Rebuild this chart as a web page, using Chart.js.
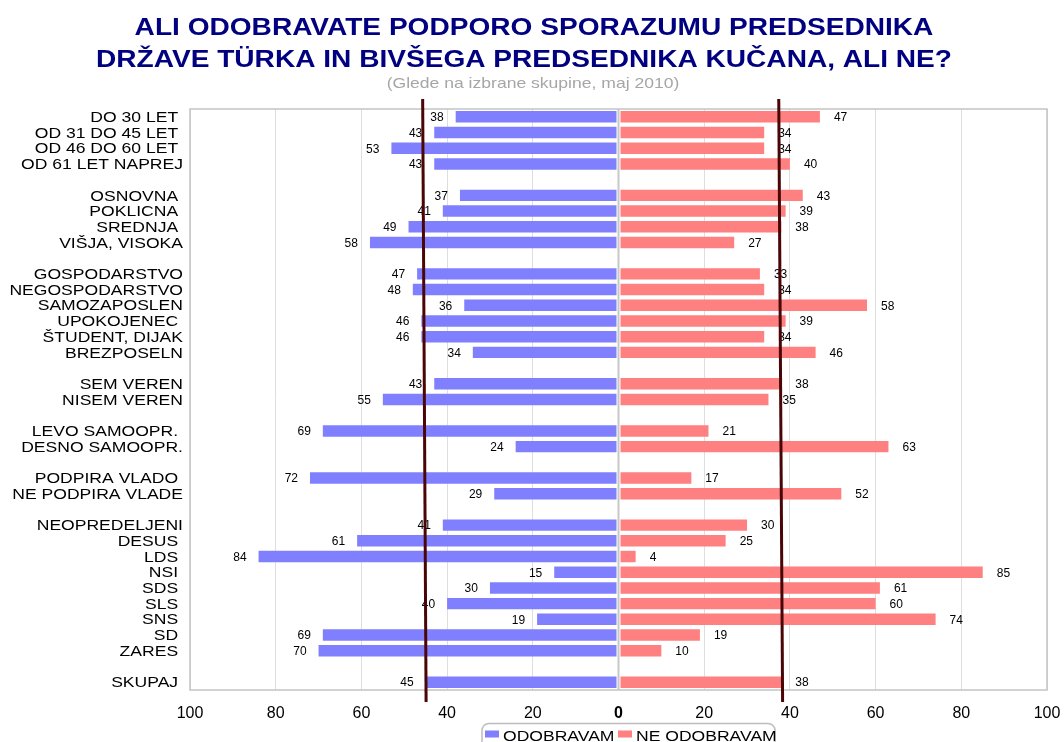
<!DOCTYPE html>
<html>
<head>
<meta charset="utf-8">
<title>Ali odobravate podporo sporazumu</title>
<script src="https://cdn.jsdelivr.net/npm/chart.js@4.4.0/dist/chart.umd.min.js"></script>
<style>
  html, body { margin: 0; padding: 0; background: #fff; overflow: hidden; }
  #wrap { width: 1064px; height: 742px; position: relative; }
</style>
</head>
<body>
<div id="wrap"><canvas id="poll"></canvas></div>
<script>
const titleLines = [
  'ALI ODOBRAVATE PODPORO SPORAZUMU PREDSEDNIKA',
  'DRŽAVE TÜRKA IN BIVŠEGA PREDSEDNIKA KUČANA, ALI NE?'
];
const subtitle = '(Glede na izbrane skupine, maj 2010)';

// empty strings are the gaps between groups
const groups = [
  'DO 30 LET ', 'OD 31 DO 45 LET ', 'OD 46 DO 60 LET ', 'OD 61 LET NAPREJ', '',
  'OSNOVNA ', 'POKLICNA ', 'SREDNJA ', 'VIŠJA, VISOKA', '',
  'GOSPODARSTVO', 'NEGOSPODARSTVO', 'SAMOZAPOSLEN', 'UPOKOJENEC ', 'ŠTUDENT, DIJAK', 'BREZPOSELN', '',
  'SEM VEREN', 'NISEM VEREN', '',
  'LEVO SAMOOPR. ', 'DESNO SAMOOPR.', '',
  'PODPIRA VLADO ', 'NE PODPIRA VLADE', '',
  'NEOPREDELJENI', 'DESUS ', 'LDS ', 'NSI ', 'SDS ', 'SLS ', 'SNS ', 'SD ', 'ZARES ', '',
  'SKUPAJ '
];
const approve = [38, 43, 53, 43, null, 37, 41, 49, 58, null, 47, 48, 36, 46, 46, 34, null,
  43, 55, null, 69, 24, null, 72, 29, null, 41, 61, 84, 15, 30, 40, 19, 69, 70, null, 45];
const disapprove = [47, 34, 34, 40, null, 43, 39, 38, 27, null, 33, 34, 58, 39, 34, 46, null,
  38, 35, null, 21, 63, null, 17, 52, null, 30, 25, 4, 85, 61, 60, 74, 19, 10, null, 38];
const seriesNames = ['ODOBRAVAM', 'NE ODOBRAVAM'];
const seriesColors = ['#8080ff', '#ff8080'];
const xTicks = [-100, -80, -60, -40, -20, 0, 20, 40, 60, 80, 100];

// the two SKUPAJ lines are drawn by hand in the original, a little slanted
const avgLineTop = [-45.7, 37.4];
const avgLineBottom = [-44.9, 38.3];

const FONT = '"Liberation Sans", Arial, sans-serif';
const STRETCH = 1.17;

function wideText(ctx, text, x, y, align) {
  ctx.save();
  ctx.translate(x, y);
  ctx.scale(STRETCH, 1);
  ctx.textAlign = align;
  ctx.fillText(text, 0, 0);
  ctx.restore();
}

const headerPlugin = {
  id: 'header',
  afterDraw(chart) {
    const ctx = chart.ctx;
    ctx.save();
    ctx.textBaseline = 'alphabetic';
    ctx.fillStyle = '#000080';
    ctx.font = 'bold 24px ' + FONT;
    wideText(ctx, titleLines[0], 534, 35, 'center');
    wideText(ctx, titleLines[1], 524, 67, 'center');
    ctx.fillStyle = '#a6a6a6';
    ctx.font = '15px ' + FONT;
    wideText(ctx, subtitle, 533, 88, 'center');
    ctx.restore();
  }
};

const categoryLabels = {
  id: 'categoryLabels',
  afterDraw(chart) {
    const ctx = chart.ctx;
    const y = chart.scales.y;
    ctx.save();
    ctx.fillStyle = '#000';
    ctx.font = '15px ' + FONT;
    ctx.textBaseline = 'middle';
    groups.forEach((g, i) => {
      if (!g) return;
      wideText(ctx, g, 183, y.getPixelForValue(i) + 1, 'right');
    });
    ctx.restore();
  }
};

const frameAndValues = {
  id: 'frameAndValues',
  afterDatasetsDraw(chart) {
    const ctx = chart.ctx;
    const area = chart.chartArea;
    const x = chart.scales.x;
    const x0 = x.getPixelForValue(0);
    ctx.save();
    // zero line with a thin white gap on both sides
    ctx.fillStyle = '#fff';
    ctx.fillRect(x0 - 2, area.top, 4, area.bottom - area.top);
    ctx.strokeStyle = '#c8c8c8';
    ctx.lineWidth = 2;
    ctx.beginPath();
    ctx.moveTo(x0, area.top);
    ctx.lineTo(x0, area.bottom);
    ctx.stroke();
    // plot frame
    ctx.strokeStyle = '#c4c4c4';
    ctx.lineWidth = 1.5;
    ctx.strokeRect(area.left, area.top, area.right - area.left, area.bottom - area.top);

    // value labels
    ctx.fillStyle = '#000';
    ctx.font = '12px ' + FONT;
    ctx.textBaseline = 'middle';
    const sets = [approve, disapprove];
    chart.data.datasets.forEach((ds, d) => {
      const meta = chart.getDatasetMeta(d);
      meta.data.forEach((bar, i) => {
        const v = sets[d][i];
        if (v == null) return;
        ctx.textAlign = d === 0 ? 'right' : 'left';
        ctx.fillText(String(v), d === 0 ? bar.x - 12 : bar.x + 14, bar.y + 1);
      });
    });

    // SKUPAJ reference lines
    ctx.strokeStyle = '#4a0606';
    ctx.lineWidth = 3;
    avgLineTop.forEach((v, k) => {
      ctx.beginPath();
      ctx.moveTo(x.getPixelForValue(v), area.top - 10);
      ctx.lineTo(x.getPixelForValue(avgLineBottom[k]), area.bottom + 12);
      ctx.stroke();
    });
    ctx.restore();
  }
};

const boxLegend = {
  id: 'boxLegend',
  afterDraw(chart) {
    const ctx = chart.ctx;
    ctx.save();
    ctx.strokeStyle = '#bdbdbd';
    ctx.lineWidth = 1.5;
    ctx.beginPath();
    ctx.roundRect(482, 723.5, 293, 30, 7);
    ctx.stroke();
    const swatchX = [485, 618];
    ctx.font = '15px ' + FONT;
    ctx.textBaseline = 'alphabetic';
    chart.data.datasets.forEach((ds, d) => {
      ctx.fillStyle = ds.backgroundColor;
      ctx.fillRect(swatchX[d], 730.5, 14, 7);
      ctx.fillStyle = '#000';
      wideText(ctx, ds.label, swatchX[d] + 18, 740.5, 'left');
    });
    ctx.restore();
  }
};

new Chart(document.getElementById('poll'), {
  type: 'bar',
  data: {
    labels: groups,
    datasets: [
      {
        label: seriesNames[0],
        data: approve.map(v => v == null ? null : -v),
        backgroundColor: seriesColors[0],
        barPercentage: 0.73,
        categoryPercentage: 1
      },
      {
        label: seriesNames[1],
        data: disapprove,
        backgroundColor: seriesColors[1],
        barPercentage: 0.73,
        categoryPercentage: 1
      }
    ]
  },
  options: {
    indexAxis: 'y',
    responsive: true,
    maintainAspectRatio: false,
    animation: false,
    layout: { padding: { top: 109, right: 17, left: 0, bottom: 0 } },
    plugins: {
      legend: { display: false },
      title: { display: false },
      tooltip: { enabled: false }
    },
    scales: {
      x: {
        stacked: true,
        min: -100,
        max: 100,
        afterBuildTicks: s => { s.ticks = xTicks.map(v => ({ value: v })); },
        grid: {
          color: c => c.tick && c.tick.value === 0 ? 'rgba(0,0,0,0)' : '#dedede',
          drawTicks: false
        },
        border: { display: false },
        ticks: {
          padding: 14,
          color: '#000',
          font: c => ({ family: FONT, size: 16, weight: c.tick && c.tick.value === 0 ? 'bold' : 'normal' }),
          callback: v => Math.abs(v)
        },
        afterFit: s => { s.height = 52; s.paddingLeft = 0; s.paddingRight = 0; }
      },
      y: {
        stacked: true,
        grid: { display: false },
        border: { display: false },
        ticks: { display: false },
        afterFit: s => { s.width = 190; }
      }
    }
  },
  plugins: [frameAndValues, categoryLabels, headerPlugin, boxLegend]
});
</script>
</body>
</html>
